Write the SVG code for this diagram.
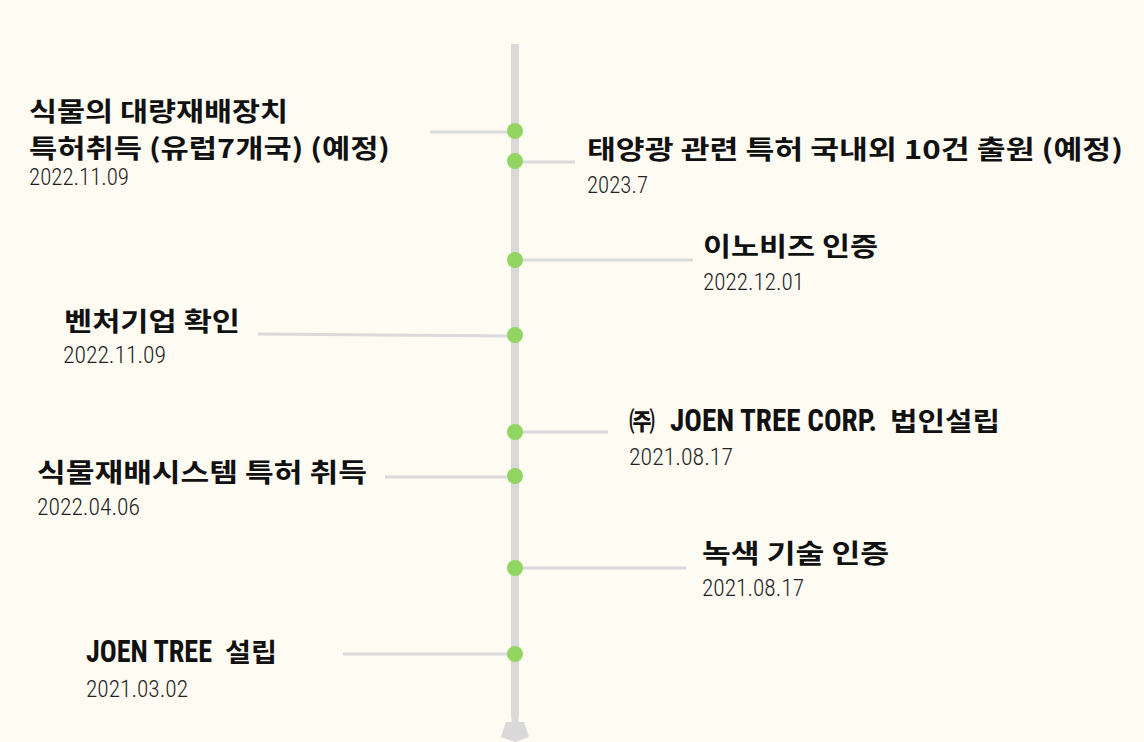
<svg xmlns="http://www.w3.org/2000/svg" width="1144" height="742" viewBox="0 0 1144 742">
<style>
.bg{fill:#fefbf3}
.spine{stroke:#d9d9d9;stroke-width:8;fill:none}
.head{fill:#d9d9d9}
.conn{stroke:#dadada;stroke-width:3;fill:none}
.dot{fill:#93d562}
.t{font-family:"Noto Sans CJK KR","Noto Sans",sans-serif;font-weight:700;font-size:26px;fill:#111}
.lat{font-family:"Roboto Condensed","Liberation Sans Narrow","DejaVu Sans Condensed",Roboto,sans-serif;font-stretch:condensed;font-weight:700;font-size:31px}
.d{font-family:"Roboto Condensed","Liberation Sans Narrow",Roboto,sans-serif;font-stretch:condensed;font-weight:300;font-size:24px;fill:#222}
</style>
<rect class="bg" x="0" y="0" width="1144" height="742"/>
<g id="spine">
<line class="spine" x1="515" y1="44" x2="515" y2="716"/>
<polygon class="head" points="511,715 519,715 518,723 512,723"/>
<polygon class="head" points="506,722 524,722 529,737 515,742 501,737"/>
</g>
<g id="connectors">
<line class="conn" x1="430" y1="132" x2="515" y2="132"/>
<line class="conn" x1="515" y1="162" x2="575" y2="162"/>
<line class="conn" x1="515" y1="260" x2="693" y2="260"/>
<line class="conn" x1="258" y1="334" x2="515" y2="336"/>
<line class="conn" x1="515" y1="432" x2="608" y2="432"/>
<line class="conn" x1="385" y1="477" x2="515" y2="477"/>
<line class="conn" x1="515" y1="568" x2="686" y2="568"/>
<line class="conn" x1="343" y1="654" x2="515" y2="654"/>
</g>
<g id="node-a">
<circle class="dot" cx="515" cy="131" r="8"/>
<text class="t" x="29" y="121" textLength="259" lengthAdjust="spacingAndGlyphs">식물의 대량재배장치</text>
<text class="t" x="29" y="158" textLength="361" lengthAdjust="spacingAndGlyphs">특허취득 (유럽7개국) (예정)</text>
<text class="d" x="29" y="185" textLength="100" lengthAdjust="spacingAndGlyphs">2022.11.09</text>
</g>
<g id="node-b">
<circle class="dot" cx="515" cy="161" r="8"/>
<text class="t" x="587" y="159" textLength="536" lengthAdjust="spacingAndGlyphs">태양광 관련 특허 국내외 10건 출원 (예정)</text>
<text class="d" x="587" y="193" textLength="61" lengthAdjust="spacingAndGlyphs">2023.7</text>
</g>
<g id="node-c">
<circle class="dot" cx="515" cy="260" r="8"/>
<text class="t" x="703" y="256" textLength="175" lengthAdjust="spacingAndGlyphs">이노비즈 인증</text>
<text class="d" x="703" y="290" textLength="101" lengthAdjust="spacingAndGlyphs">2022.12.01</text>
</g>
<g id="node-d">
<circle class="dot" cx="515" cy="335" r="8"/>
<text class="t" x="64" y="331" textLength="176" lengthAdjust="spacingAndGlyphs">벤처기업 확인</text>
<text class="d" x="63" y="363" textLength="103" lengthAdjust="spacingAndGlyphs">2022.11.09</text>
</g>
<g id="node-e">
<circle class="dot" cx="515" cy="432" r="8"/>
<text class="t" x="629" y="431"><tspan x="629">㈜ </tspan><tspan class="lat" x="670" textLength="207" lengthAdjust="spacingAndGlyphs">JOEN TREE CORP.</tspan><tspan x="890" textLength="110" lengthAdjust="spacingAndGlyphs">법인설립</tspan></text>
<text class="d" x="629" y="465" textLength="104" lengthAdjust="spacingAndGlyphs">2021.08.17</text>
</g>
<g id="node-f">
<circle class="dot" cx="515" cy="476" r="8"/>
<text class="t" x="37" y="482" textLength="330" lengthAdjust="spacingAndGlyphs">식물재배시스템 특허 취득</text>
<text class="d" x="37" y="515" textLength="103" lengthAdjust="spacingAndGlyphs">2022.04.06</text>
</g>
<g id="node-g">
<circle class="dot" cx="515" cy="568" r="8"/>
<text class="t" x="702" y="563" textLength="187" lengthAdjust="spacingAndGlyphs">녹색 기술 인증</text>
<text class="d" x="702" y="596" textLength="102" lengthAdjust="spacingAndGlyphs">2021.08.17</text>
</g>
<g id="node-h">
<circle class="dot" cx="515" cy="654" r="8"/>
<text class="t" x="86" y="662"><tspan class="lat" x="86" textLength="126" lengthAdjust="spacingAndGlyphs">JOEN TREE</tspan><tspan x="225" textLength="52" lengthAdjust="spacingAndGlyphs">설립</tspan></text>
<text class="d" x="86" y="697" textLength="102" lengthAdjust="spacingAndGlyphs">2021.03.02</text>
</g>
</svg>
